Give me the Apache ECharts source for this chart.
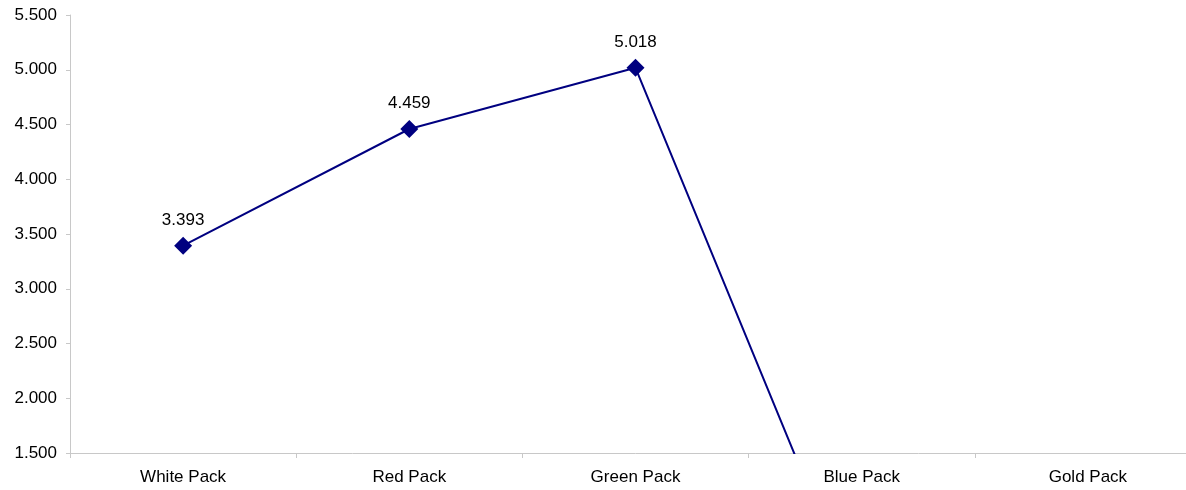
<!DOCTYPE html>
<html>
<head>
<meta charset="utf-8">
<script src="https://cdn.jsdelivr.net/npm/echarts@6/dist/echarts.min.js"></script>
<style>
html,body{margin:0;padding:0;background:#fff;overflow:hidden;width:1186px;height:490px;}
#chart{width:1201px;height:490px;}
</style>
</head>
<body>
<div id="chart"></div>
<script>
const categories = ['White Pack', 'Red Pack', 'Green Pack', 'Blue Pack', 'Gold Pack'];
const values = [3393, 4459, 5018, 0, null];
const yTicks = [1500, 2000, 2500, 3000, 3500, 4000, 4500, 5000, 5500];

function fmt(v) {
  const s = String(Math.round(v));
  return s.replace(/\B(?=(\d{3})+(?!\d))/g, '.');
}

const chart = echarts.init(document.getElementById('chart'));
chart.setOption({
  animation: false,
  grid: { left: 70, top: 15, height: 438, right: 0 },
  xAxis: {
    type: 'category',
    data: categories,
    boundaryGap: true,
    axisLine: { lineStyle: { color: '#c8c8c8', width: 1 } },
    axisTick: { show: true, length: 5, lineStyle: { color: '#c8c8c8' } },
    axisLabel: { color: '#000', fontFamily: 'Liberation Sans, Arial', fontSize: 17, margin: 16 }
  },
  yAxis: {
    type: 'value',
    min: yTicks[0],
    max: yTicks[yTicks.length - 1],
    interval: 500,
    splitLine: { show: false },
    axisLine: { show: true, lineStyle: { color: '#c8c8c8', width: 1 } },
    axisTick: { show: true, length: 4, lineStyle: { color: '#c8c8c8' } },
    axisLabel: { color: '#000', fontFamily: 'Liberation Sans, Arial', fontSize: 17, margin: 13, formatter: v => fmt(v) }
  },
  series: [{
    type: 'line',
    data: values,
    clip: true,
    symbol: 'diamond',
    symbolSize: 18,
    lineStyle: { color: '#000080', width: 2 },
    itemStyle: { color: '#000080' },
    label: {
      show: true,
      position: 'top',
      distance: 8,
      color: '#000',
      fontFamily: 'Liberation Sans, Arial',
      fontSize: 17,
      formatter: p => fmt(p.value)
    }
  }]
});
</script>
</body>
</html>
